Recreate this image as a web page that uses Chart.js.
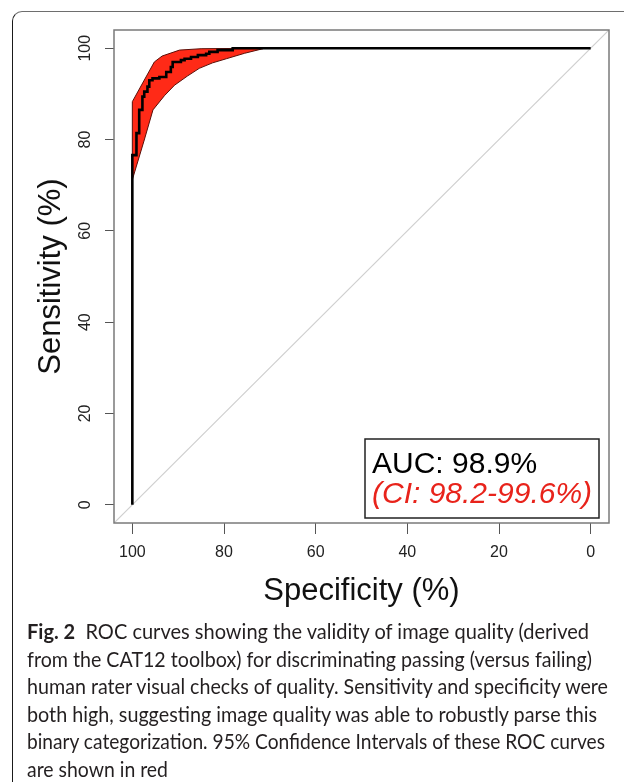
<!DOCTYPE html>
<html>
<head>
<meta charset="utf-8">
<script src="https://cdn.jsdelivr.net/npm/chart.js@4.4.1/dist/chart.umd.min.js"></script>
<style>
  html, body { margin: 0; padding: 0; background: #fff; }
  body { width: 624px; height: 782px; position: relative; overflow: hidden; }
  #frame { position: absolute; left: 12px; top: 11px; width: 700px; height: 900px;
           border-left: 1.5px solid #1a1a1a; border-top: 1.5px solid #6e6e6e; border-top-left-radius: 10px; }
  #wrap { position: absolute; left: 0; top: 0; width: 624px; height: 620px; }
  #caption { position: absolute; left: 27px; top: 618px; font-family: Lato, "Open Sans", sans-serif;
             color: #231f20; white-space: nowrap; font-size: 21.5px; line-height: 27.6px; }
  #caption div { transform-origin: 0 50%; display: block; width: max-content; }
  #caption b { font-weight: 700; }
</style>
</head>
<body>
<div id="frame"></div>
<div id="wrap"><canvas id="c" width="624" height="620"></canvas></div>
<div id="caption">
  <div data-w="562"><b>Fig. 2</b>&nbsp; ROC curves showing the validity of image quality (derived</div>
  <div data-w="565">from the CAT12 toolbox) for discriminating passing (versus failing)</div>
  <div data-w="581">human rater visual checks of quality. Sensitivity and specificity were</div>
  <div data-w="570">both high, suggesting image quality was able to robustly parse this</div>
  <div data-w="578">binary categorization. 95% Confidence Intervals of these ROC curves</div>
  <div data-w="141">are shown in red</div>
</div>
<script>
// ---- data ----
const tickValues = [0, 20, 40, 60, 80, 100];

// ROC staircase: specificity (%) and sensitivity (%) at each step top
const specificity = [100, 100, 99.1, 98.5, 97.8, 97.4, 96.7, 96.3, 95.6, 94.1, 92.6, 91.6, 91.2, 89.4, 88.6, 87.2, 85.7, 83.9, 83.2, 81.4, 78.1, 0];
const sensitivity = [0, 76.6, 81.4, 86.5, 89.4, 90.5, 91.6, 93.0, 93.4, 93.7, 94.8, 95.9, 97.0, 97.4, 97.7, 98.1, 98.5, 98.8, 99.2, 99.6, 100, 100];

// 95% CI band: upper and lower sensitivity bounds
const ciUpperSpec = [100, 95.2, 93.5, 89.7, 85.0, 72.0];
const ciUpperSens = [88.3, 97.0, 98.3, 99.6, 99.9, 100];
const ciLowerSpec = [71.5, 75.5, 79.5, 82.5, 85.4, 88.0, 90.8, 93.0, 95.5, 97.4, 100];
const ciLowerSens = [99.9, 98.9, 97.7, 96.8, 95.6, 93.9, 91.9, 89.6, 86.5, 79.9, 71.2];

// chance diagonal (spans the whole plotting region)
const diagSpec = [104, -4];
const diagSens = [-4, 104];

const aucText = 'AUC: 98.9%';
const ciText = '(CI: 98.2-99.6%)';

// ---- build ----
const pts = (xs, ys) => xs.map((x, i) => ({ x: x, y: ys[i] }));
const bandPts = pts(ciUpperSpec, ciUpperSens).concat(pts(ciLowerSpec, ciLowerSens));
bandPts.push({ x: ciUpperSpec[0], y: ciUpperSens[0] });

const FONT = '"Liberation Sans", Arial, Helvetica, sans-serif';

const boxPlugin = {
  id: 'rbox',
  afterDraw(chart) {
    const { ctx, chartArea: a } = chart;
    ctx.save();
    ctx.strokeStyle = '#7a7a7a';
    ctx.lineWidth = 1.5;
    ctx.strokeRect(a.left, a.top, a.right - a.left, a.bottom - a.top);
    // legend box (bottom right)
    const w = 234, h = 79;
    const x0 = a.right - 10 - w, y0 = a.bottom - 5 - h;
    ctx.fillStyle = '#fff';
    ctx.fillRect(x0, y0, w, h);
    ctx.strokeStyle = '#222';
    ctx.lineWidth = 1.5;
    ctx.strokeRect(x0, y0, w, h);
    ctx.textAlign = 'left';
    ctx.textBaseline = 'alphabetic';
    ctx.fillStyle = '#000';
    ctx.font = '30px ' + FONT;
    ctx.fillText(aucText, x0 + 7, y0 + 34);
    ctx.fillStyle = '#e8231b';
    ctx.font = 'italic 30px ' + FONT;
    ctx.fillText(ciText, x0 + 7, y0 + 64);
    ctx.restore();
  }
};

const setTicks = s => { s.ticks = tickValues.map(v => ({ value: v })); };

new Chart(document.getElementById('c'), {
  type: 'scatter',
  data: {
    datasets: [
      { label: 'ROC', data: pts(specificity, sensitivity), showLine: true, stepped: 'before',
        borderColor: '#000', borderWidth: 2.6, pointRadius: 0, fill: false, order: 0 },
      { label: 'CI', data: bandPts, showLine: true, borderColor: '#5a0f08', borderWidth: 1,
        backgroundColor: '#ff2a17', pointRadius: 0, fill: 'shape', order: 2 },
      { label: 'diag', data: pts(diagSpec, diagSens), showLine: true, borderColor: '#cfcfcf',
        borderWidth: 1.2, pointRadius: 0, fill: false, order: 3 }
    ]
  },
  options: {
    responsive: false,
    animation: false,
    events: [],
    layout: { padding: { top: 30, right: 15, left: 0, bottom: 0 } },
    plugins: { legend: { display: false }, tooltip: { enabled: false } },
    scales: {
      x: {
        type: 'linear', reverse: true, min: -4, max: 104,
        afterBuildTicks: setTicks,
        afterFit: s => { s.height = 97; },
        border: { display: false },
        grid: { drawOnChartArea: false, drawTicks: true, tickLength: 11, color: '#555', lineWidth: 1 },
        ticks: { font: { family: FONT, size: 16 }, color: '#222', padding: 9, maxRotation: 0, autoSkip: false },
        title: { display: true, text: 'Specificity (%)', color: '#111', font: { family: FONT, size: 31 }, padding: { top: 0, bottom: 10 } }
      },
      y: {
        type: 'linear', min: -4, max: 104,
        afterBuildTicks: setTicks,
        afterFit: s => { s.width = 114; },
        border: { display: false },
        grid: { drawOnChartArea: false, drawTicks: true, tickLength: 9, color: '#555', lineWidth: 1 },
        ticks: { font: { family: FONT, size: 16 }, color: '#222', padding: 6, minRotation: 90, maxRotation: 90, crossAlign: 'center', autoSkip: false },
        title: { display: true, text: 'Sensitivity (%)', color: '#111', font: { family: FONT, size: 31 }, padding: { top: 33, bottom: 0 } }
      }
    }
  },
  plugins: [boxPlugin]
});

// fit each caption line to the reference line length
document.querySelectorAll('#caption div').forEach(el => {
  const target = parseFloat(el.dataset.w);
  const w = el.getBoundingClientRect().width;
  el.style.transform = 'scaleX(' + (target / w).toFixed(4) + ')';
});
</script>
</body>
</html>
